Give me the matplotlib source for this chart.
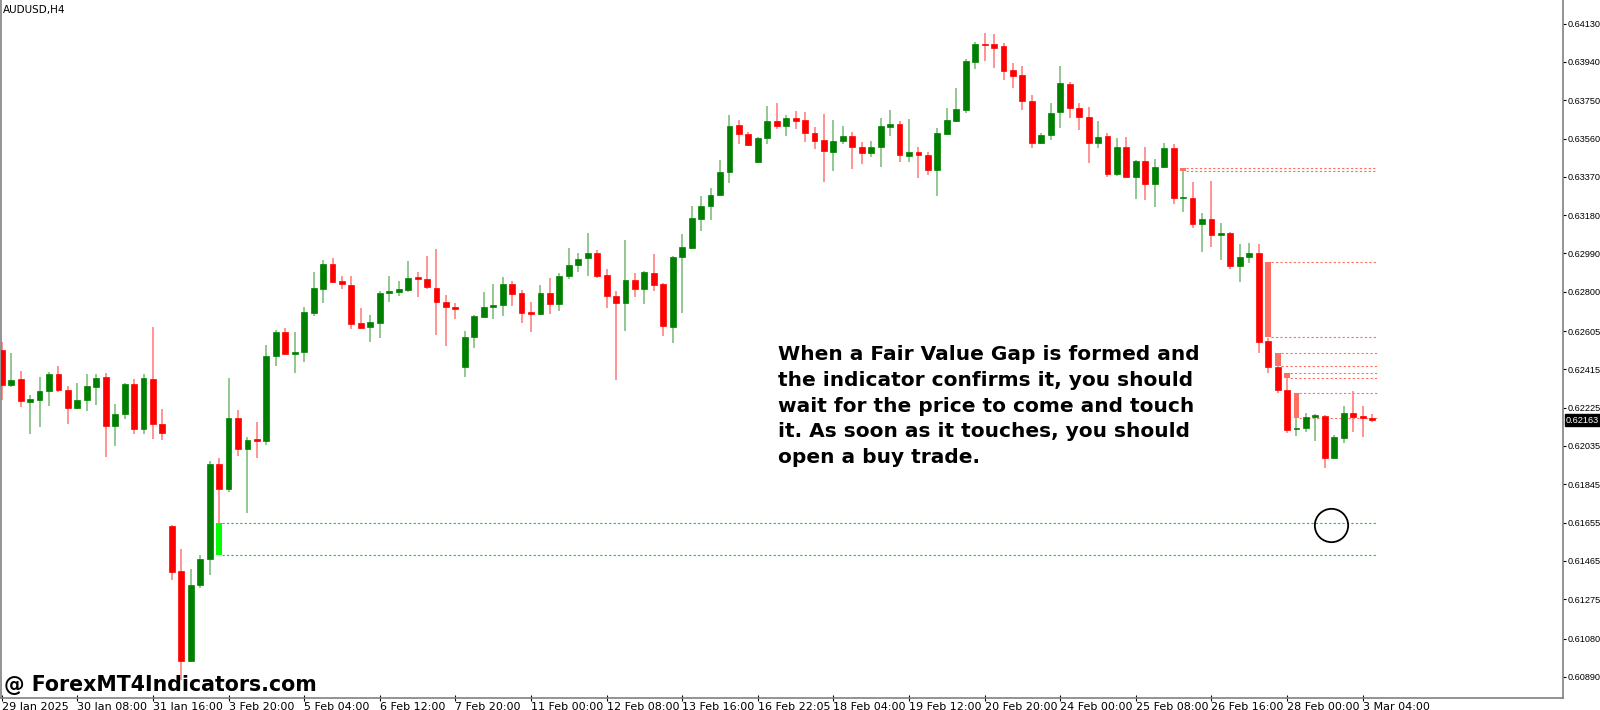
import matplotlib
matplotlib.use("Agg")
import matplotlib.pyplot as plt
import numpy as np

opens = [.62511,.62337,.62367,.62253,.62263,.62308,.62392,.62313,.62223,.62263,
         .62327,.62377,.62134,.62194,.62342,.62119,.62367,.62144,.61638,.61415,
         .60968,.61345,.61474,.61946,.61822,.62174,.62020,.62070,.62060,.62481,
         .62600,.62491,.62501,.62694,.62814,.62938,.62853,.62833,.62645,.62625,
         .62645,.62794,.62799,.62809,.62873,.62863,.62818,.62749,.62724,.62427,
         .62575,.62675,.62724,.62734,.62838,.62794,.62699,.62690,.62794,.62739,
         .62878,.62933,.62967,.62992,.62883,.62779,.62744,.62858,.62814,.62893,
         .62838,.62625,.62972,.63017,.63161,.63225,.63280,.63394,.63627,.63582,
         .63443,.63563,.63647,.63622,.63662,.63652,.63587,.63553,.63493,.63548,
         .63572,.63518,.63488,.63518,.63617,.63632,.63473,.63493,.63478,.63404,
         .63582,.63647,.63701,.63939,.64029,.64029,.64019,.63900,.63875,.63746,
         .63538,.63577,.63691,.63830,.63711,.63667,.63538,.63572,.63384,.63518,
         .63369,.63448,.63334,.63419,.63513,.63265,.63265,.63136,.63161,.63081,
         .63091,.62928,.62972,.62992,.62556,.62427,.62313,.62119,.62124,.62179,
         .62184,.61975,.62075,.62198,.62184,.62174]
highs = [.62551,.62496,.62407,.62288,.62377,.62402,.62432,.62332,.62347,.62392,
         .62392,.62397,.62243,.62347,.62367,.62392,.62625,.62218,.61645,.61524,
         .61425,.61494,.61960,.61975,.62372,.62213,.62079,.62154,.62536,.62610,
         .62620,.62600,.62724,.62898,.62957,.62967,.62878,.62878,.62719,.62685,
         .62804,.62878,.62853,.62952,.62898,.62977,.63012,.62784,.62744,.62605,
         .62685,.62799,.62838,.62873,.62853,.62809,.62749,.62833,.62868,.62893,
         .63017,.62992,.63091,.63007,.62913,.62804,.63057,.62893,.62903,.62987,
         .62845,.62977,.63086,.63225,.63275,.63315,.63453,.63677,.63652,.63590,
         .63567,.63721,.63736,.63677,.63696,.63691,.63617,.63682,.63652,.63622,
         .63592,.63543,.63548,.63662,.63701,.63647,.63657,.63518,.63493,.63612,
         .63711,.63811,.63954,.64039,.64083,.64078,.64035,.63935,.63920,.63776,
         .63587,.63736,.63920,.63840,.63736,.63716,.63647,.63587,.63563,.63567,
         .63453,.63518,.63458,.63538,.63533,.63404,.63344,.63190,.63349,.63141,
         .63096,.63037,.63042,.63037,.62570,.62432,.62372,.62174,.62198,.62194,
         .62190,.62089,.62233,.62308,.62233,.62194]
lows = [.62263,.62327,.62228,.62094,.62129,.62233,.62303,.62144,.62218,.62208,
        .62238,.61980,.62035,.62169,.62094,.62094,.62070,.62065,.61370,.60874,
        .60963,.61331,.61395,.61653,.61807,.61985,.61703,.61975,.62040,.62432,
        .62491,.62397,.62451,.62680,.62744,.62843,.62814,.62615,.62615,.62551,
        .62571,.62749,.62779,.62799,.62774,.62814,.62585,.62531,.62665,.62377,
        .62521,.62675,.62665,.62680,.62729,.62645,.62600,.62685,.62690,.62704,
        .62863,.62898,.62878,.62868,.62719,.62362,.62605,.62774,.62739,.62804,
        .62580,.62546,.62694,.63012,.63101,.63156,.63275,.63339,.63533,.63528,
        .63439,.63533,.63607,.63572,.63607,.63543,.63508,.63344,.63399,.63533,
        .63409,.63434,.63468,.63419,.63572,.63443,.63443,.63364,.63379,.63275,
        .63577,.63642,.63687,.63905,.63944,.63910,.63850,.63811,.63701,.63513,
        .63533,.63553,.63612,.63662,.63602,.63439,.63513,.63369,.63374,.63369,
        .63260,.63255,.63220,.63414,.63235,.63195,.63116,.62997,.63022,.62957,
        .62913,.62848,.62943,.62496,.62397,.62298,.62099,.62084,.62104,.62060,
        .61926,.61970,.62050,.62104,.62079,.62154]
closes = [.62337,.62362,.62258,.62268,.62308,.62392,.62313,.62223,.62263,.62332,
          .62372,.62134,.62194,.62342,.62119,.62372,.62144,.62099,.61410,.60968,
          .61345,.61474,.61946,.61822,.62174,.62020,.62065,.62060,.62481,.62600,
          .62491,.62501,.62699,.62819,.62938,.62848,.62838,.62640,.62620,.62650,
          .62794,.62804,.62814,.62868,.62863,.62823,.62749,.62724,.62714,.62575,
          .62680,.62724,.62734,.62838,.62789,.62694,.62690,.62794,.62739,.62878,
          .62933,.62962,.62992,.62878,.62779,.62744,.62858,.62814,.62898,.62833,
          .62630,.62972,.63022,.63166,.63225,.63280,.63394,.63622,.63582,.63528,
          .63563,.63647,.63622,.63662,.63647,.63587,.63548,.63498,.63548,.63572,
          .63518,.63488,.63518,.63622,.63632,.63478,.63493,.63478,.63404,.63587,
          .63652,.63706,.63944,.64029,.64024,.64009,.63895,.63870,.63746,.63538,
          .63577,.63687,.63835,.63711,.63667,.63538,.63567,.63384,.63518,.63369,
          .63448,.63334,.63419,.63513,.63265,.63270,.63136,.63161,.63081,.63091,
          .62928,.62972,.62992,.62551,.62427,.62313,.62114,.62124,.62179,.62189,
          .61975,.62079,.62198,.62179,.62174,.62163]

# fair value gaps: candle where box is drawn, top, bottom
bear_fvg_idx = [125, 134, 135, 136, 137]
bear_fvg_top = [.63414, .62947, .62496, .62397, .62298]
bear_fvg_bot = [.63400, .62575, .62432, .62372, .62174]
bull_fvg_idx = [23]
bull_fvg_top = [.61653]
bull_fvg_bot = [.61494]

price_ticks = [0.64130, 0.63940, 0.63750, 0.63560, 0.63370, 0.63180, 0.62990, 0.62800,
               0.62605, 0.62415, 0.62225, 0.62035, 0.61845, 0.61655, 0.61465, 0.61275,
               0.61080, 0.60890]
time_labels = ["29 Jan 2025", "30 Jan 08:00", "31 Jan 16:00", "3 Feb 20:00", "5 Feb 04:00",
               "6 Feb 12:00", "7 Feb 20:00", "11 Feb 00:00", "12 Feb 08:00", "13 Feb 16:00",
               "16 Feb 22:05", "18 Feb 04:00", "19 Feb 12:00", "20 Feb 20:00", "24 Feb 00:00",
               "25 Feb 08:00", "26 Feb 16:00", "28 Feb 00:00", "3 Mar 04:00"]
last_price = 0.62163

o = np.array(opens); h = np.array(highs); l = np.array(lows); c = np.array(closes)
n = len(c)
x = np.arange(n)

fig = plt.figure(figsize=(16, 7.1), dpi=100)
ax = fig.add_axes([0.0008, 1 - 698/710, 1563/1600 - 0.0008, 698/710])

up = c >= o
w = 0.62
for i in range(n):
    col = '#008000' if up[i] else '#ff0000'
    wick = '#7fbf7f' if up[i] else '#ff8080'
    ax.vlines(x[i], l[i], h[i], color=wick, lw=1.2, zorder=2)
    bot = min(o[i], c[i])
    hgt = max(abs(c[i] - o[i]), 0.00004)
    ax.bar(x[i], hgt, w, bot, color=col, edgecolor=col, lw=0.5, zorder=3)

end = n - 0.5
for i, t, b in zip(bear_fvg_idx, bear_fvg_top, bear_fvg_bot):
    ax.bar(i, t - b, w, b, color='#ff6f5f', lw=0, zorder=4)
    ax.hlines([t, b], i + w/2, end, colors='#ff6f5f', lw=0.8, linestyles=(0, (2, 2)), zorder=1)
for i, t, b in zip(bull_fvg_idx, bull_fvg_top, bull_fvg_bot):
    ax.bar(i, t - b, w, b, color='#00ff00', lw=0, zorder=4)
    ax.hlines([t, b], i + w/2, end, colors='#00dd00', lw=0.8, linestyles=(0, (2, 2)), zorder=1)

# touch marker
ax.plot(140.7, 0.61645, marker='o', ms=24, mfc='none', mec='black', mew=1.3, zorder=5)

ax.set_xlim(-0.05, 165.2)
ax.set_ylim(0.60785, 0.64247)

ax.spines['top'].set_visible(False)
for s in ['left', 'right', 'bottom']:
    ax.spines[s].set_color('#808080')
    ax.spines[s].set_linewidth(1.2)

ax.yaxis.tick_right()
ax.set_yticks(price_ticks)
ax.set_yticklabels([f"{p:.5f}" for p in price_ticks], fontsize=6.6, family='Liberation Sans')
ax.tick_params(axis='y', length=2.5, pad=1, colors='black')
ax.set_xticks(np.arange(len(time_labels)) * 8)
ax.set_xticklabels(time_labels, fontsize=8, ha='left')
ax.tick_params(axis='x', length=4, pad=1, direction='inout')

ax.text(1.002, last_price, f"{last_price:.5f}", transform=ax.get_yaxis_transform(),
        fontsize=6.6, family='Liberation Sans', color='white', va='center', ha='left',
        bbox=dict(boxstyle='square,pad=0.15', fc='black', ec='black'))

fig.text(3/1600, 1 - 10/710, "AUDUSD,H4", fontsize=7.5, va='center', ha='left')
fig.text(778/1600, 1 - 345/710,
         "When a Fair Value Gap is formed and\nthe indicator confirms it, you should\n"
         "wait for the price to come and touch\nit. As soon as it touches, you should\n"
         "open a buy trade.",
         fontsize=14.5, fontweight='bold', va='top', ha='left', linespacing=1.45)
fig.text(4/1600, 1 - 685/710, "@ ForexMT4Indicators.com", fontsize=14.8,
         fontweight='bold', va='center', ha='left')

fig.savefig("out.png", dpi=100)
